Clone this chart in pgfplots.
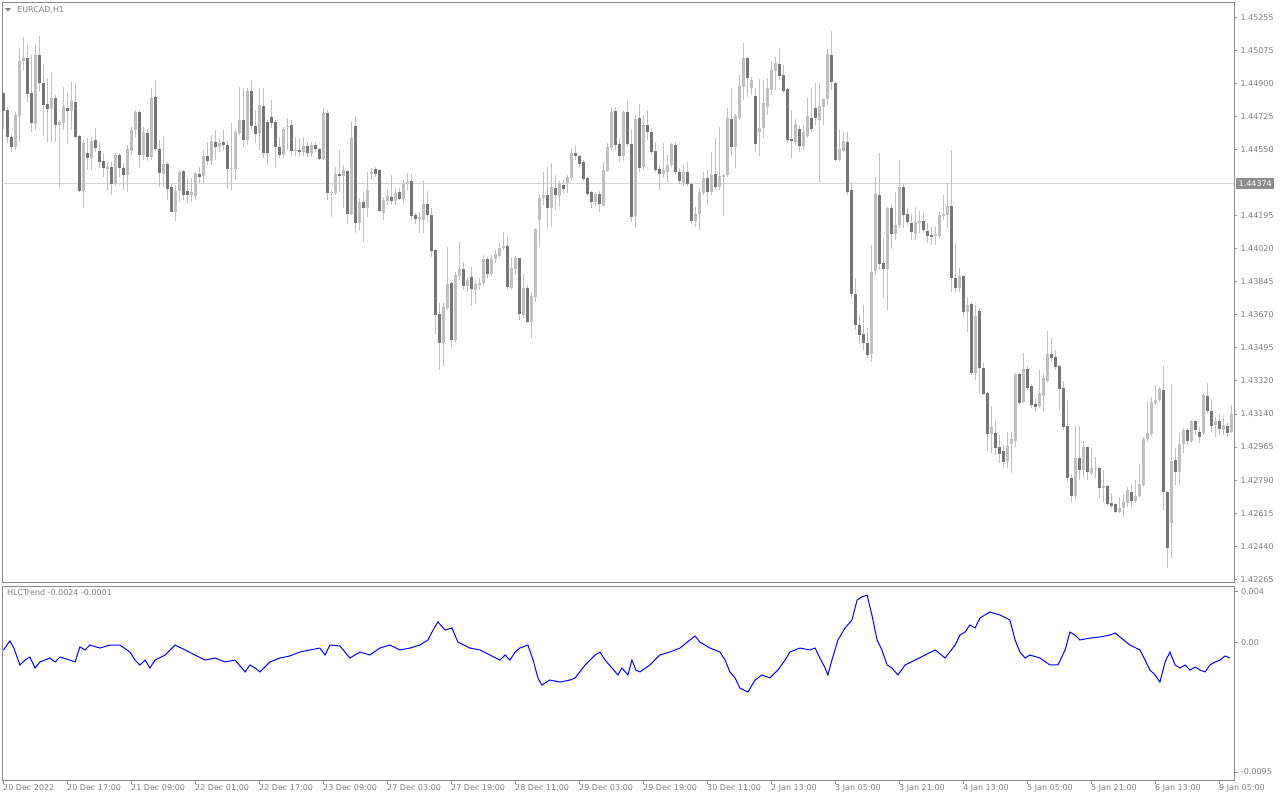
\documentclass[border=0pt]{standalone}
\usepackage{pgfplots}
\pgfplotsset{compat=1.18}
\usepackage{pgfplotstable}
\usepackage{fontspec}
\setmainfont{DejaVu Sans}
\newcommand\lbl{\fontsize{8bp}{9.6bp}\selectfont}
\definecolor{bullc}{RGB}{192,192,192}
\definecolor{bearc}{RGB}{118,118,118}
\definecolor{wickc}{RGB}{192,192,192}
\definecolor{framec}{RGB}{140,140,140}
\definecolor{textc}{RGB}{128,128,128}
\definecolor{linec}{RGB}{212,212,212}
\definecolor{boxc}{RGB}{140,140,140}

\pgfplotstableread{
i o h l c
0 1.44852 1.44857 1.44661 1.44757
1 1.44762 1.44778 1.44586 1.44618
2 1.44618 1.44634 1.44538 1.44565
3 1.44565 1.44751 1.44549 1.44735
4 1.44730 1.45091 1.44591 1.45023
5 1.45023 1.45150 1.44975 1.45038
6 1.45038 1.45107 1.44804 1.44847
7 1.44852 1.45054 1.44644 1.44693
8 1.44688 1.45113 1.44655 1.45054
9 1.45054 1.45155 1.44857 1.44905
10 1.44905 1.45001 1.44623 1.44788
11 1.44794 1.44932 1.44591 1.44767
12 1.44767 1.44959 1.44591 1.44825
13 1.44825 1.44841 1.44591 1.44682
14 1.44682 1.44709 1.44352 1.44698
15 1.44693 1.44884 1.44655 1.44783
16 1.44772 1.44857 1.44586 1.44757
17 1.44757 1.44910 1.44655 1.44810
18 1.44804 1.44905 1.44612 1.44618
19 1.44623 1.44628 1.44325 1.44331
20 1.44331 1.44602 1.44240 1.44586
21 1.44533 1.44612 1.44443 1.44506
22 1.44506 1.44618 1.44443 1.44597
23 1.44602 1.44666 1.44538 1.44559
24 1.44544 1.44591 1.44453 1.44485
25 1.44491 1.44533 1.44406 1.44453
26 1.44448 1.44485 1.44336 1.44459
27 1.44459 1.44485 1.44309 1.44368
28 1.44368 1.44533 1.44357 1.44522
29 1.44522 1.44533 1.44406 1.44453
30 1.44453 1.44480 1.44336 1.44416
31 1.44416 1.44575 1.44325 1.44554
32 1.44544 1.44672 1.44522 1.44655
33 1.44655 1.44762 1.44618 1.44751
34 1.44751 1.44762 1.44453 1.44522
35 1.44522 1.44672 1.44496 1.44644
36 1.44639 1.44661 1.44491 1.44512
37 1.44512 1.44878 1.44496 1.44825
38 1.44831 1.44921 1.44544 1.44554
39 1.44554 1.44602 1.44352 1.44427
40 1.44422 1.44618 1.44352 1.44475
41 1.44475 1.44485 1.44283 1.44341
42 1.44352 1.44368 1.44219 1.44219
43 1.44219 1.44362 1.44172 1.44331
44 1.44331 1.44443 1.44272 1.44432
45 1.44438 1.44443 1.44283 1.44309
46 1.44331 1.44400 1.44267 1.44309
47 1.44309 1.44400 1.44272 1.44325
48 1.44304 1.44432 1.44283 1.44427
49 1.44422 1.44459 1.44373 1.44406
50 1.44411 1.44549 1.44373 1.44517
51 1.44517 1.44591 1.44469 1.44491
52 1.44491 1.44628 1.44469 1.44597
53 1.44591 1.44655 1.44496 1.44565
54 1.44565 1.44612 1.44538 1.44586
55 1.44591 1.44655 1.44549 1.44575
56 1.44575 1.44602 1.44341 1.44448
57 1.44448 1.44693 1.44336 1.44453
58 1.44448 1.44655 1.44389 1.44644
59 1.44639 1.44884 1.44628 1.44709
60 1.44709 1.44878 1.44565 1.44602
61 1.44602 1.44878 1.44575 1.44863
62 1.44863 1.44921 1.44655 1.44677
63 1.44677 1.44762 1.44586 1.44634
64 1.44639 1.44878 1.44549 1.44788
65 1.44783 1.44878 1.44506 1.44533
66 1.44698 1.44709 1.44469 1.44533
67 1.44725 1.44815 1.44666 1.44693
68 1.44698 1.44709 1.44459 1.44565
69 1.44565 1.44618 1.44506 1.44522
70 1.44522 1.44672 1.44506 1.44661
71 1.44672 1.44719 1.44549 1.44677
72 1.44682 1.44709 1.44522 1.44544
73 1.44544 1.44618 1.44517 1.44549
74 1.44549 1.44612 1.44512 1.44538
75 1.44538 1.44618 1.44517 1.44570
76 1.44570 1.44591 1.44512 1.44533
77 1.44533 1.44591 1.44512 1.44575
78 1.44575 1.44591 1.44538 1.44554
79 1.44554 1.44559 1.44496 1.44501
80 1.44501 1.44772 1.44496 1.44746
81 1.44746 1.44762 1.44283 1.44320
82 1.44320 1.44336 1.44193 1.44325
83 1.44320 1.44459 1.44309 1.44422
84 1.44422 1.44549 1.44325 1.44411
85 1.44411 1.44469 1.44240 1.44443
86 1.44438 1.44443 1.44156 1.44209
87 1.44209 1.44698 1.44203 1.44612
88 1.44677 1.44730 1.44107 1.44161
89 1.44161 1.44293 1.44123 1.44272
90 1.44272 1.44325 1.44059 1.44240
91 1.44240 1.44432 1.44193 1.44336
92 1.44422 1.44453 1.44395 1.44432
93 1.44448 1.44459 1.44406 1.44422
94 1.44443 1.44448 1.44219 1.44225
95 1.44214 1.44299 1.44177 1.44283
96 1.44278 1.44341 1.44256 1.44304
97 1.44299 1.44416 1.44256 1.44278
98 1.44278 1.44341 1.44256 1.44320
99 1.44325 1.44346 1.44283 1.44288
100 1.44288 1.44389 1.44267 1.44373
101 1.44368 1.44427 1.44336 1.44378
102 1.44384 1.44422 1.44177 1.44198
103 1.44203 1.44214 1.44156 1.44182
104 1.44182 1.44219 1.44107 1.44193
105 1.44177 1.44384 1.44107 1.44262
106 1.44262 1.44331 1.44166 1.44203
107 1.44203 1.44240 1.43980 1.44012
108 1.44017 1.44022 1.43570 1.43671
109 1.43677 1.43735 1.43379 1.43522
110 1.43522 1.43735 1.43400 1.43714
111 1.43708 1.44033 1.43698 1.43836
112 1.43841 1.43846 1.43501 1.43538
113 1.43538 1.43900 1.43522 1.43884
114 1.43879 1.44059 1.43857 1.43916
115 1.43916 1.43953 1.43804 1.43825
116 1.43825 1.43874 1.43793 1.43857
117 1.43874 1.43927 1.43719 1.43809
118 1.43804 1.43857 1.43735 1.43836
119 1.43831 1.43868 1.43804 1.43841
120 1.43841 1.43990 1.43831 1.43969
121 1.43969 1.43980 1.43868 1.43890
122 1.43890 1.43990 1.43874 1.43969
123 1.43969 1.44017 1.43948 1.43996
124 1.43985 1.44054 1.43974 1.44027
125 1.44027 1.44112 1.44017 1.44038
126 1.44038 1.44086 1.43804 1.43820
127 1.43814 1.43974 1.43809 1.43921
128 1.43916 1.43985 1.43884 1.43974
129 1.43974 1.43974 1.43645 1.43677
130 1.43671 1.43890 1.43655 1.43814
131 1.43814 1.43831 1.43629 1.43634
132 1.43634 1.43793 1.43548 1.43772
133 1.43767 1.44134 1.43740 1.44129
134 1.44177 1.44309 1.44033 1.44293
135 1.44293 1.44432 1.44256 1.44309
136 1.44309 1.44459 1.44134 1.44240
137 1.44240 1.44480 1.44140 1.44352
138 1.44346 1.44416 1.44230 1.44309
139 1.44304 1.44384 1.44246 1.44373
140 1.44362 1.44389 1.44320 1.44341
141 1.44373 1.44416 1.44320 1.44406
142 1.44400 1.44554 1.44389 1.44533
143 1.44533 1.44575 1.44496 1.44517
144 1.44517 1.44522 1.44453 1.44475
145 1.44485 1.44496 1.44384 1.44395
146 1.44400 1.44406 1.44304 1.44315
147 1.44325 1.44331 1.44240 1.44272
148 1.44272 1.44325 1.44251 1.44315
149 1.44315 1.44331 1.44219 1.44262
150 1.44251 1.44485 1.44251 1.44443
151 1.44438 1.44586 1.44432 1.44565
152 1.44559 1.44778 1.44549 1.44751
153 1.44757 1.44778 1.44549 1.44575
154 1.44581 1.44612 1.44485 1.44517
155 1.44517 1.44762 1.44496 1.44751
156 1.44751 1.44810 1.44565 1.44581
157 1.44581 1.44661 1.44166 1.44193
158 1.44198 1.44735 1.44134 1.44714
159 1.44719 1.44794 1.44432 1.44453
160 1.44459 1.44735 1.44443 1.44682
161 1.44682 1.44762 1.44602 1.44644
162 1.44644 1.44666 1.44522 1.44538
163 1.44544 1.44591 1.44432 1.44443
164 1.44448 1.44469 1.44336 1.44422
165 1.44422 1.44586 1.44400 1.44443
166 1.44432 1.44522 1.44378 1.44469
167 1.44469 1.44586 1.44459 1.44581
168 1.44575 1.44591 1.44416 1.44432
169 1.44432 1.44453 1.44368 1.44384
170 1.44373 1.44469 1.44357 1.44432
171 1.44432 1.44485 1.44357 1.44368
172 1.44368 1.44378 1.44156 1.44172
173 1.44172 1.44246 1.44140 1.44209
174 1.44209 1.44346 1.44123 1.44325
175 1.44320 1.44432 1.44309 1.44400
176 1.44400 1.44443 1.44256 1.44325
177 1.44325 1.44538 1.44309 1.44416
178 1.44422 1.44612 1.44336 1.44352
179 1.44352 1.44672 1.44336 1.44411
180 1.44406 1.44422 1.44198 1.44416
181 1.44416 1.44772 1.44406 1.44719
182 1.44714 1.44873 1.44522 1.44565
183 1.44565 1.44741 1.44453 1.44730
184 1.44719 1.44948 1.44709 1.44889
185 1.44884 1.45118 1.44815 1.45038
186 1.45038 1.45044 1.44831 1.44932
187 1.44878 1.44938 1.44841 1.44921
188 1.44836 1.44878 1.44538 1.44581
189 1.44644 1.44927 1.44517 1.44666
190 1.44666 1.44921 1.44612 1.44799
191 1.44778 1.44932 1.44735 1.44878
192 1.44868 1.45023 1.44841 1.44975
193 1.44970 1.45044 1.44868 1.45012
194 1.45007 1.45086 1.44921 1.44943
195 1.44948 1.45001 1.44852 1.44863
196 1.44873 1.44878 1.44586 1.44602
197 1.44607 1.44762 1.44506 1.44597
198 1.44591 1.44714 1.44575 1.44688
199 1.44661 1.44682 1.44538 1.44570
200 1.44570 1.44682 1.44549 1.44644
201 1.44623 1.44825 1.44612 1.44730
202 1.44719 1.44878 1.44644 1.44661
203 1.44772 1.44905 1.44682 1.44719
204 1.44709 1.44905 1.44378 1.44783
205 1.44778 1.44825 1.44682 1.44820
206 1.44820 1.45086 1.44788 1.45060
207 1.45054 1.45182 1.44868 1.44910
208 1.44905 1.44910 1.44485 1.44496
209 1.44496 1.44655 1.44491 1.44554
210 1.44544 1.44644 1.44538 1.44597
211 1.44591 1.44644 1.44309 1.44325
212 1.44336 1.44378 1.43761 1.43783
213 1.43783 1.43868 1.43591 1.43618
214 1.43618 1.43671 1.43517 1.43564
215 1.43570 1.43724 1.43485 1.43522
216 1.43522 1.43602 1.43442 1.43458
217 1.43464 1.44043 1.43421 1.43900
218 1.43906 1.44406 1.43884 1.44315
219 1.44309 1.44533 1.43911 1.43943
220 1.43948 1.44080 1.43761 1.43916
221 1.43916 1.44246 1.43698 1.44240
222 1.44240 1.44262 1.44022 1.44102
223 1.44102 1.44325 1.44070 1.44150
224 1.44150 1.44496 1.44134 1.44352
225 1.44352 1.44368 1.44134 1.44203
226 1.44209 1.44240 1.44150 1.44166
227 1.44161 1.44209 1.44070 1.44112
228 1.44102 1.44246 1.44070 1.44166
229 1.44161 1.44225 1.44107 1.44172
230 1.44172 1.44214 1.44107 1.44123
231 1.44118 1.44161 1.44054 1.44091
232 1.44096 1.44140 1.44043 1.44086
233 1.44091 1.44140 1.44043 1.44102
234 1.44091 1.44219 1.44080 1.44203
235 1.44198 1.44309 1.44177 1.44209
236 1.44203 1.44373 1.44134 1.44251
237 1.44251 1.44549 1.43793 1.43868
238 1.43868 1.44054 1.43788 1.43814
239 1.43814 1.43921 1.43793 1.43879
240 1.43879 1.43884 1.43661 1.43687
241 1.43687 1.43767 1.43580 1.43724
242 1.43730 1.43740 1.43352 1.43363
243 1.43363 1.43724 1.43325 1.43666
244 1.43693 1.43708 1.43256 1.43389
245 1.43389 1.43416 1.43245 1.43251
246 1.43256 1.43261 1.42948 1.43038
247 1.43038 1.43187 1.42937 1.43075
248 1.43043 1.43108 1.42926 1.42963
249 1.42969 1.43032 1.42884 1.42932
250 1.42948 1.42980 1.42863 1.42889
251 1.42895 1.43048 1.42857 1.42974
252 1.42985 1.43048 1.42831 1.43011
253 1.43001 1.43363 1.42969 1.43358
254 1.43357 1.43368 1.43192 1.43203
255 1.43208 1.43469 1.43203 1.43384
256 1.43384 1.43400 1.43272 1.43283
257 1.43293 1.43304 1.43176 1.43192
258 1.43198 1.43229 1.43155 1.43182
259 1.43187 1.43379 1.43176 1.43256
260 1.43240 1.43357 1.43155 1.43336
261 1.43320 1.43586 1.43309 1.43464
262 1.43464 1.43548 1.43421 1.43442
263 1.43448 1.43485 1.43379 1.43395
264 1.43400 1.43405 1.43166 1.43277
265 1.43283 1.43320 1.43059 1.43075
266 1.43081 1.43214 1.42782 1.42804
267 1.42804 1.42820 1.42676 1.42708
268 1.42708 1.43081 1.42692 1.42910
269 1.42910 1.43081 1.42793 1.42847
270 1.42847 1.43001 1.42810 1.42969
271 1.42969 1.42969 1.42793 1.42836
272 1.42831 1.42963 1.42820 1.42857
273 1.42852 1.42916 1.42804 1.42857
274 1.42857 1.42863 1.42697 1.42751
275 1.42751 1.42847 1.42676 1.42761
276 1.42761 1.42767 1.42660 1.42666
277 1.42671 1.42724 1.42644 1.42655
278 1.42666 1.42671 1.42618 1.42623
279 1.42623 1.42703 1.42618 1.42644
280 1.42644 1.42714 1.42597 1.42676
281 1.42671 1.42756 1.42650 1.42740
282 1.42729 1.42772 1.42650 1.42682
283 1.42682 1.42793 1.42671 1.42708
284 1.42708 1.42879 1.42697 1.42772
285 1.42767 1.43022 1.42756 1.43011
286 1.43011 1.43214 1.42995 1.43043
287 1.43038 1.43235 1.43027 1.43208
288 1.43203 1.43299 1.43192 1.43219
289 1.43219 1.43288 1.43208 1.43277
290 1.43272 1.43400 1.42634 1.42729
291 1.42729 1.42735 1.42325 1.42431
292 1.42565 1.43299 1.42378 1.42895
293 1.42900 1.42963 1.42767 1.42836
294 1.42836 1.43043 1.42767 1.42985
295 1.42985 1.43070 1.42937 1.43059
296 1.43059 1.43070 1.42980 1.43001
297 1.43001 1.43113 1.42990 1.43108
298 1.43108 1.43113 1.43032 1.43059
299 1.43048 1.43075 1.42990 1.43022
300 1.43043 1.43256 1.43032 1.43245
301 1.43240 1.43309 1.43150 1.43160
302 1.43160 1.43219 1.43049 1.43081
303 1.43086 1.43128 1.43022 1.43108
304 1.43108 1.43145 1.43032 1.43065
305 1.43059 1.43128 1.43032 1.43086
306 1.43081 1.43097 1.43022 1.43043
307 1.43048 1.43192 1.43043 1.43145
}\candles

\pgfplotstableread{
b v
0 -5.6e-4
1.6 1.0e-4
2.6 -4.2e-4
4.1 -16.6e-4
5.4 -13.0e-4
6.6 -10.8e-4
7.9 -18.8e-4
9.1 -14.4e-4
11.6 -11.5e-4
12.9 -14.4e-4
14.1 -10.8e-4
16.6 -13.0e-4
17.9 -14.4e-4
19.1 -3.4e-4
20.4 -5.6e-4
21.6 -2.0e-4
24.1 -4.2e-4
26.6 -2.0e-4
29.1 -2.0e-4
31.6 -7.1e-4
32.9 -13.0e-4
34.1 -16.6e-4
35.4 -13.0e-4
36.6 -18.8e-4
37.9 -13.0e-4
40.4 -9.3e-4
42.9 -2.0e-4
45.4 -5.6e-4
47.9 -9.3e-4
50.4 -13.0e-4
52.9 -11.5e-4
55.4 -14.4e-4
57.9 -13.0e-4
60.4 -21.7e-4
61.6 -16.6e-4
62.9 -18.8e-4
64.1 -21.7e-4
66.6 -14.4e-4
69.1 -11.5e-4
71.6 -10.0e-4
74.1 -7.1e-4
76.6 -5.6e-4
79.1 -4.2e-4
80.4 -9.3e-4
81.6 -2.0e-4
84.1 -2.7e-4
86.6 -11.5e-4
89.1 -7.1e-4
91.6 -9.3e-4
94.1 -4.2e-4
96.6 -2.0e-4
99.1 -5.6e-4
101.6 -4.2e-4
104.1 -2.0e-4
106.1 1.7e-4
107.4 9.0e-4
108.6 14.9e-4
110.4 9.0e-4
112.1 10.5e-4
113.6 0.2e-4
116.6 -4.2e-4
119.1 -5.6e-4
121.6 -9.3e-4
124.1 -13.0e-4
125.4 -9.3e-4
126.6 -13.0e-4
127.9 -7.1e-4
129.1 -4.2e-4
131.1 -2.0e-4
132.4 -13.0e-4
133.6 -26.1e-4
134.6 -31.3e-4
136.6 -27.6e-4
139.1 -29.1e-4
141.6 -27.6e-4
142.9 -26.1e-4
145.4 -16.6e-4
147.9 -9.3e-4
149.1 -7.1e-4
150.4 -13.0e-4
152.1 -18.8e-4
153.6 -23.9e-4
154.6 -18.8e-4
156.1 -23.9e-4
157.1 -13.0e-4
158.1 -20.3e-4
159.1 -21.7e-4
161.6 -16.6e-4
164.1 -9.3e-4
166.6 -7.1e-4
169.1 -4.2e-4
171.6 1.7e-4
172.9 4.6e-4
174.1 0.2e-4
176.6 -4.2e-4
179.1 -7.1e-4
180.4 -13.0e-4
181.6 -21.7e-4
182.9 -26.1e-4
184.1 -33.5e-4
186.1 -36.4e-4
187.9 -27.6e-4
189.6 -23.9e-4
191.6 -26.1e-4
193.6 -20.3e-4
195.4 -13.0e-4
196.6 -7.1e-4
199.1 -4.2e-4
201.6 -5.6e-4
202.9 -4.2e-4
204.1 -11.5e-4
205.4 -18.8e-4
206.1 -23.9e-4
207.1 -13.0e-4
208.6 1.7e-4
210.4 10.5e-4
212.1 16.3e-4
213.4 31.0e-4
214.6 33.2e-4
215.9 34.6e-4
217.1 20.0e-4
218.4 1.7e-4
219.6 -5.6e-4
220.9 -16.6e-4
222.1 -18.8e-4
223.6 -23.9e-4
225.4 -16.6e-4
227.9 -13.0e-4
230.4 -9.3e-4
232.9 -5.6e-4
235.4 -11.5e-4
237.9 -2.0e-4
239.1 5.3e-4
240.4 7.5e-4
241.6 12.7e-4
242.9 10.5e-4
244.1 17.8e-4
246.6 22.2e-4
249.1 20.0e-4
251.6 16.3e-4
252.9 1.7e-4
254.1 -7.1e-4
255.4 -11.5e-4
256.6 -9.3e-4
259.1 -11.5e-4
261.6 -16.6e-4
263.6 -16.6e-4
265.4 -5.6e-4
266.6 7.5e-4
267.9 5.3e-4
269.1 1.7e-4
271.6 3.1e-4
274.1 3.9e-4
276.6 5.3e-4
277.9 6.8e-4
279.1 3.9e-4
281.6 -2.0e-4
284.1 -5.6e-4
285.4 -13.0e-4
286.6 -20.3e-4
287.9 -23.9e-4
289.1 -29.1e-4
290.4 -14.4e-4
291.6 -7.1e-4
292.9 -16.6e-4
294.1 -18.8e-4
295.4 -16.6e-4
296.6 -20.3e-4
297.9 -18.1e-4
299.1 -20.3e-4
300.4 -21.7e-4
301.6 -16.6e-4
302.9 -14.4e-4
304.1 -13.0e-4
305.4 -10.0e-4
306.6 -11.5e-4
}\hlc

\begin{document}
\begin{tikzpicture}
\fill[white] (0,0) rectangle (1280bp,-800bp);
\useasboundingbox (0,0) rectangle (1280bp,-800bp);

% main price panel
\begin{axis}[
  at={(2bp,-2bp)}, anchor=north west,
  scale only axis, width=1232bp, height=580bp,
  xmin=-0.375, xmax=307.625, ymin=1.422508, ymax=1.453364,
  axis line style={draw=framec, line width=0.8bp},
  xtick=\empty,
  scaled y ticks=false,
  ytick={1.45255,1.45079,1.44903,1.44728,1.44552,1.44200,1.44024,1.43848,1.43672,1.43497,1.43321,1.43145,1.42969,1.42793,1.42617,1.42441,1.42265},
  yticklabels={1.45255,1.45075,1.44900,1.44725,1.44550,1.44195,1.44020,1.43845,1.43670,1.43495,1.43320,1.43140,1.42965,1.42790,1.42615,1.42440,1.42265},
  ytick pos=right, yticklabel pos=right,
  tick align=outside, major tick length=3bp,
  tick style={draw=framec, line width=0.8bp},
  yticklabel style={font=\lbl, text=textc},
]
\addplot[draw=linec, line width=0.8bp, forget plot] coordinates {(-0.375,1.44374) (307.625,1.44374)};
% wicks
\addplot[forget plot, draw=none, mark=none,
  error bars/.cd, y dir=plus, y explicit, error mark=none,
  error bar style={draw=wickc, line width=1bp}]
  table[x=i, y=l, y error expr=\thisrow{h}-\thisrow{l}] {\candles};
% bull bodies
\addplot[forget plot, draw=none, mark=none,
  error bars/.cd, y dir=plus, y explicit, error mark=none,
  error bar style={draw=bullc, line width=3bp}]
  table[x=i, y expr={\thisrow{c}>=\thisrow{o} ? \thisrow{o} : nan}, y error expr=\thisrow{c}-\thisrow{o}] {\candles};
% bear bodies
\addplot[forget plot, draw=none, mark=none,
  error bars/.cd, y dir=plus, y explicit, error mark=none,
  error bar style={draw=bearc, line width=3bp}]
  table[x=i, y expr={\thisrow{c}<\thisrow{o} ? \thisrow{c} : nan}, y error expr=\thisrow{o}-\thisrow{c}] {\candles};
\end{axis}

% price label box
\node[fill=boxc, text=white, font=\lbl, anchor=west, inner xsep=2.5bp, inner ysep=2bp] at (1236bp,-183.5bp) {1.44374};
% title
\fill[textc] (5bp,-8bp) -- (11bp,-8bp) -- (8bp,-11.5bp) -- cycle;
\node[text=textc, font=\lbl, anchor=west, inner sep=0pt] at (17bp,-10bp) {EURCAD,H1};

% indicator panel
\begin{axis}[
  at={(2bp,-586bp)}, anchor=north west,
  scale only axis, width=1232bp, height=194bp,
  xmin=-0.375, xmax=307.625, ymin=-0.01008, ymax=0.004121,
  axis line style={draw=framec, line width=0.8bp},
  scaled y ticks=false, scaled x ticks=false,
  xtick={0,16,...,304},
  xticklabels={20 Dec 2022,20 Dec 17:00,21 Dec 09:00,22 Dec 01:00,22 Dec 17:00,23 Dec 09:00,27 Dec 03:00,27 Dec 19:00,28 Dec 11:00,29 Dec 03:00,29 Dec 19:00,30 Dec 11:00,2 Jan 13:00,3 Jan 05:00,3 Jan 21:00,4 Jan 13:00,5 Jan 05:00,5 Jan 21:00,6 Jan 13:00,9 Jan 05:00},
  xtick pos=bottom,
  xticklabel style={font=\lbl, text=textc, anchor=north west, inner sep=0pt, xshift=-0.5bp, yshift=-1bp},
  ytick={0.0037,0,-0.0095},
  yticklabels={0.004,0.00,-0.0095},
  ytick pos=right, yticklabel pos=right,
  yticklabel style={font=\lbl, text=textc},
  tick align=outside, major tick length=3.5bp,
  tick style={draw=framec, line width=0.8bp},
]
\addplot[draw=blue, line width=1bp, mark=none] table[x=b, y=v] {\hlc};
\end{axis}
\node[text=textc, font=\lbl, anchor=west, inner sep=0pt] at (7bp,-593bp) {HLCTrend -0.0024 -0.0001};
\end{tikzpicture}
\end{document}
